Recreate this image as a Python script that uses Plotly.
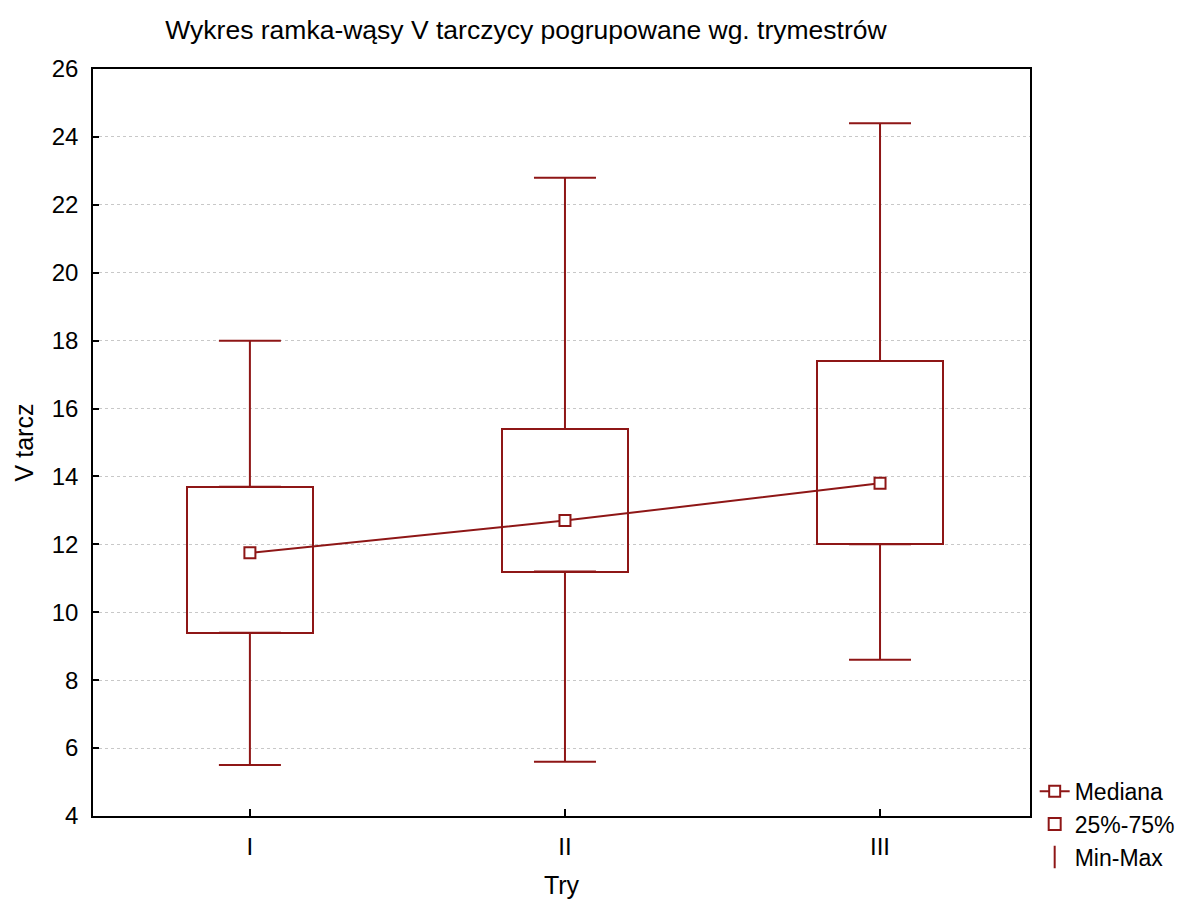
import plotly.graph_objects as go

categories = ["I", "II", "III"]
v_min = [5.5, 5.6, 8.6]
q1 = [9.4, 11.2, 12.0]
median = [11.75, 12.7, 13.8]
q3 = [13.7, 15.4, 17.4]
v_max = [18.0, 22.8, 24.4]
y_ticks = [4, 6, 8, 10, 12, 14, 16, 18, 20, 22, 24, 26]

RED = "#8E1616"
FONT = "Liberation Sans, Arial, sans-serif"
LW = 2

fig = go.Figure()

# whiskers (upper: q3 -> max, lower: q1 -> min)
fig.add_trace(go.Scatter(
    x=categories, y=q3, mode="markers", marker=dict(size=0.1, color=RED, opacity=0),
    error_y=dict(type="data", symmetric=False,
                 array=[b - a for a, b in zip(q3, v_max)], arrayminus=[0, 0, 0],
                 color=RED, thickness=LW, width=31),
    showlegend=False, hoverinfo="skip"))
fig.add_trace(go.Scatter(
    x=categories, y=q1, mode="markers", marker=dict(size=0.1, color=RED, opacity=0),
    error_y=dict(type="data", symmetric=False,
                 array=[0, 0, 0], arrayminus=[a - b for a, b in zip(q1, v_min)],
                 color=RED, thickness=LW, width=31),
    showlegend=False, hoverinfo="skip"))

# boxes
fig.add_trace(go.Bar(
    x=categories, y=[b - a for a, b in zip(q1, q3)], base=q1, width=0.4,
    marker=dict(color="rgba(255,255,255,0)", line=dict(color=RED, width=LW)),
    name="25%-75%", legendrank=2))

# medians
fig.add_trace(go.Scatter(
    x=categories, y=median, mode="lines+markers",
    line=dict(color=RED, width=LW),
    marker=dict(symbol="square", size=11, color="white", line=dict(color=RED, width=LW)),
    name="Mediana", legendrank=1))

# legend entry for min-max
fig.add_trace(go.Scatter(
    x=[None], y=[None], mode="markers",
    marker=dict(symbol="line-ns", size=24, color=RED, line=dict(color=RED, width=LW)),
    name="Min-Max", legendrank=3))

W, H = 1189, 899
fig.update_layout(
    width=W, height=H,
    paper_bgcolor="white", plot_bgcolor="white",
    font=dict(family=FONT, size=24, color="black"),
    margin=dict(l=93, r=W - 1030, t=69, b=H - 816, autoexpand=False),
    title=dict(text="Wykres ramka-wąsy V tarczycy pogrupowane wg. trymestrów",
               x=526 / W, xanchor="center", xref="container",
               y=1 - 30 / H, yanchor="middle", yref="container",
               font=dict(size=26.5, color="black")),
    showlegend=True,
    legend=dict(x=1.005, xanchor="left", y=0.062, yanchor="top",
                font=dict(size=23), bgcolor="rgba(0,0,0,0)",
                itemwidth=30, tracegroupgap=0),
    bargap=0,
)

fig.update_xaxes(
    type="category", range=[-0.498, 2.476],
    showline=True, linecolor="black", linewidth=1.5, mirror=True,
    ticks="inside", ticklen=7, tickcolor="black", tickwidth=1.5,
    showgrid=False, zeroline=False, tickfont=dict(size=24),
    ticklabelstandoff=8,
    title=dict(text="Try", font=dict(size=25), standoff=27),
)
fig.update_yaxes(
    range=[4, 26], tickvals=y_ticks,
    showline=True, linecolor="black", linewidth=1.5, mirror=True,
    ticks="inside", ticklen=6, tickcolor="black", tickwidth=1.5,
    showgrid=True, gridcolor="#C8C8C8", gridwidth=1, griddash="dot",
    zeroline=False, tickfont=dict(size=24),
    ticklabelstandoff=8,
    title=dict(text="V tarcz", font=dict(size=25), standoff=11),
)

fig.write_html("out.html", config={"displayModeBar": False},
               post_script="document.body.style.margin='0';")
